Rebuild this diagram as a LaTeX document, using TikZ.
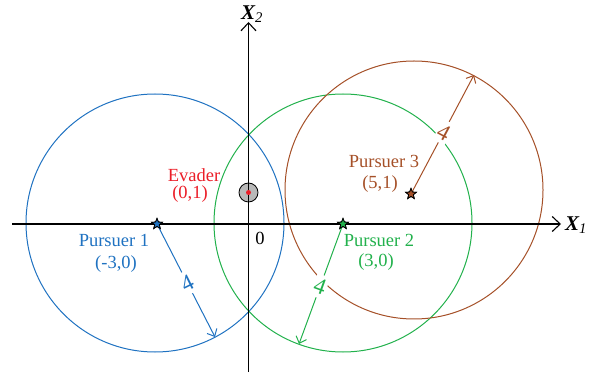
\documentclass[tikz,border=0pt]{standalone}
\usepackage{fontspec}
\setmainfont{Liberation Serif}
\usetikzlibrary{arrows.meta,shapes.geometric}
\definecolor{pblue}{RGB}{31,114,193}
\definecolor{pgreen}{RGB}{34,177,76}
\definecolor{pbrown}{RGB}{165,80,40}
\definecolor{ered}{RGB}{235,30,40}
\definecolor{egray}{RGB}{185,185,185}
\begin{document}
\begin{tikzpicture}[x=1pt,y=-1pt,
  lbl/.style={font=\fontsize{18.5}{20}\selectfont, inner sep=0pt},
  rng/.style={line width=1pt},
  axisline/.style={line width=1.1pt, -{Straight Barb[length=8pt,width=15pt,line width=1.1pt]}},
  rad/.style={line width=1pt, -{Straight Barb[length=6pt,width=11pt,line width=1pt]}},
  pstar/.style={star, star points=5, star point ratio=2.3, minimum size=11pt, inner sep=0pt, draw=black, line width=0.8pt},
  four/.style={font=\fontsize{23}{23}\selectfont, fill=white, inner xsep=1pt, inner ysep=4pt}]
\useasboundingbox (0,0) rectangle (597,379);
% range circles
\draw[rng, pblue]  (155,223) circle[radius=129];
\draw[rng, pgreen] (343,223) circle[radius=129];
\draw[rng, pbrown] (414,190) circle[radius=129];
% evader
\node[circle, draw=black, fill=egray, line width=0.8pt, minimum size=19pt, inner sep=0pt] (ev) at (248.5,192.5) {};
% axes
\coordinate (xs) at (12,224);
\coordinate (xe) at (561,224);
\coordinate (ys) at (248.5,372);
\coordinate (ye) at (248.5,22);
\draw[axisline] (xs) -- (xe);
\draw[axisline] (ys) -- (ye);
\node[font=\fontsize{21}{21}\selectfont\bfseries\itshape, anchor=center] (x1) at (576,225) {X\textsubscript{\textmd{\itshape 1}}};
\node[font=\fontsize{21}{21}\selectfont\bfseries\itshape, anchor=center] (x2) at (252,14) {X\textsubscript{\textmd{\itshape 2}}};
\node[lbl] (zero) at (260,238) {0};
\node[circle, fill=ered, minimum size=5pt, inner sep=0pt] (evd) at (248.5,192.5) {};
% pursuers
\node[pstar, fill=pblue]  (p1) at (157,224) {};
\node[pstar, fill=pgreen] (p2) at (343,224) {};
\node[pstar, fill=pbrown] (p3) at (411,194) {};
% radius arrows
\coordinate (a1) at (215,337);
\coordinate (a2) at (299,344);
\coordinate (a3) at (474,75);
\draw[rad, pblue]  (p1.center) -- node[four, text=pblue, rotate=26.4, pos=0.52] (f1) {4} (a1);
\draw[rad, pgreen] (p2.center) -- node[four, text=pgreen, rotate=-20, pos=0.52] (f2) {4} (a2);
\draw[rad, pbrown] (p3.center) -- node[four, text=pbrown, rotate=-28, pos=0.52] (f3) {4} (a3);
\node[pstar, fill=pblue]  at (p1) {};
\node[pstar, fill=pgreen] at (p2) {};
\node[pstar, fill=pbrown] at (p3) {};
% labels
\node[lbl, text=ered] (evl1) at (194,175) {Evader};
\node[lbl, text=ered] (evl2) at (190,194.5) {(0,1)};
\node[lbl, text=pblue] (p1l1) at (114,240) {Pursuer 1};
\node[lbl, text=pblue] (p1l2) at (116,264.5) {(-3,0)};
\node[lbl, text=pgreen] (p2l1) at (379,240) {Pursuer 2};
\node[lbl, text=pgreen] (p2l2) at (376,262.5) {(3,0)};
\node[lbl, text=pbrown] (p3l1) at (384,161.5) {Pursuer 3};
\node[lbl, text=pbrown] (p3l2) at (380,184) {(5,1)};
\end{tikzpicture}
\end{document}
